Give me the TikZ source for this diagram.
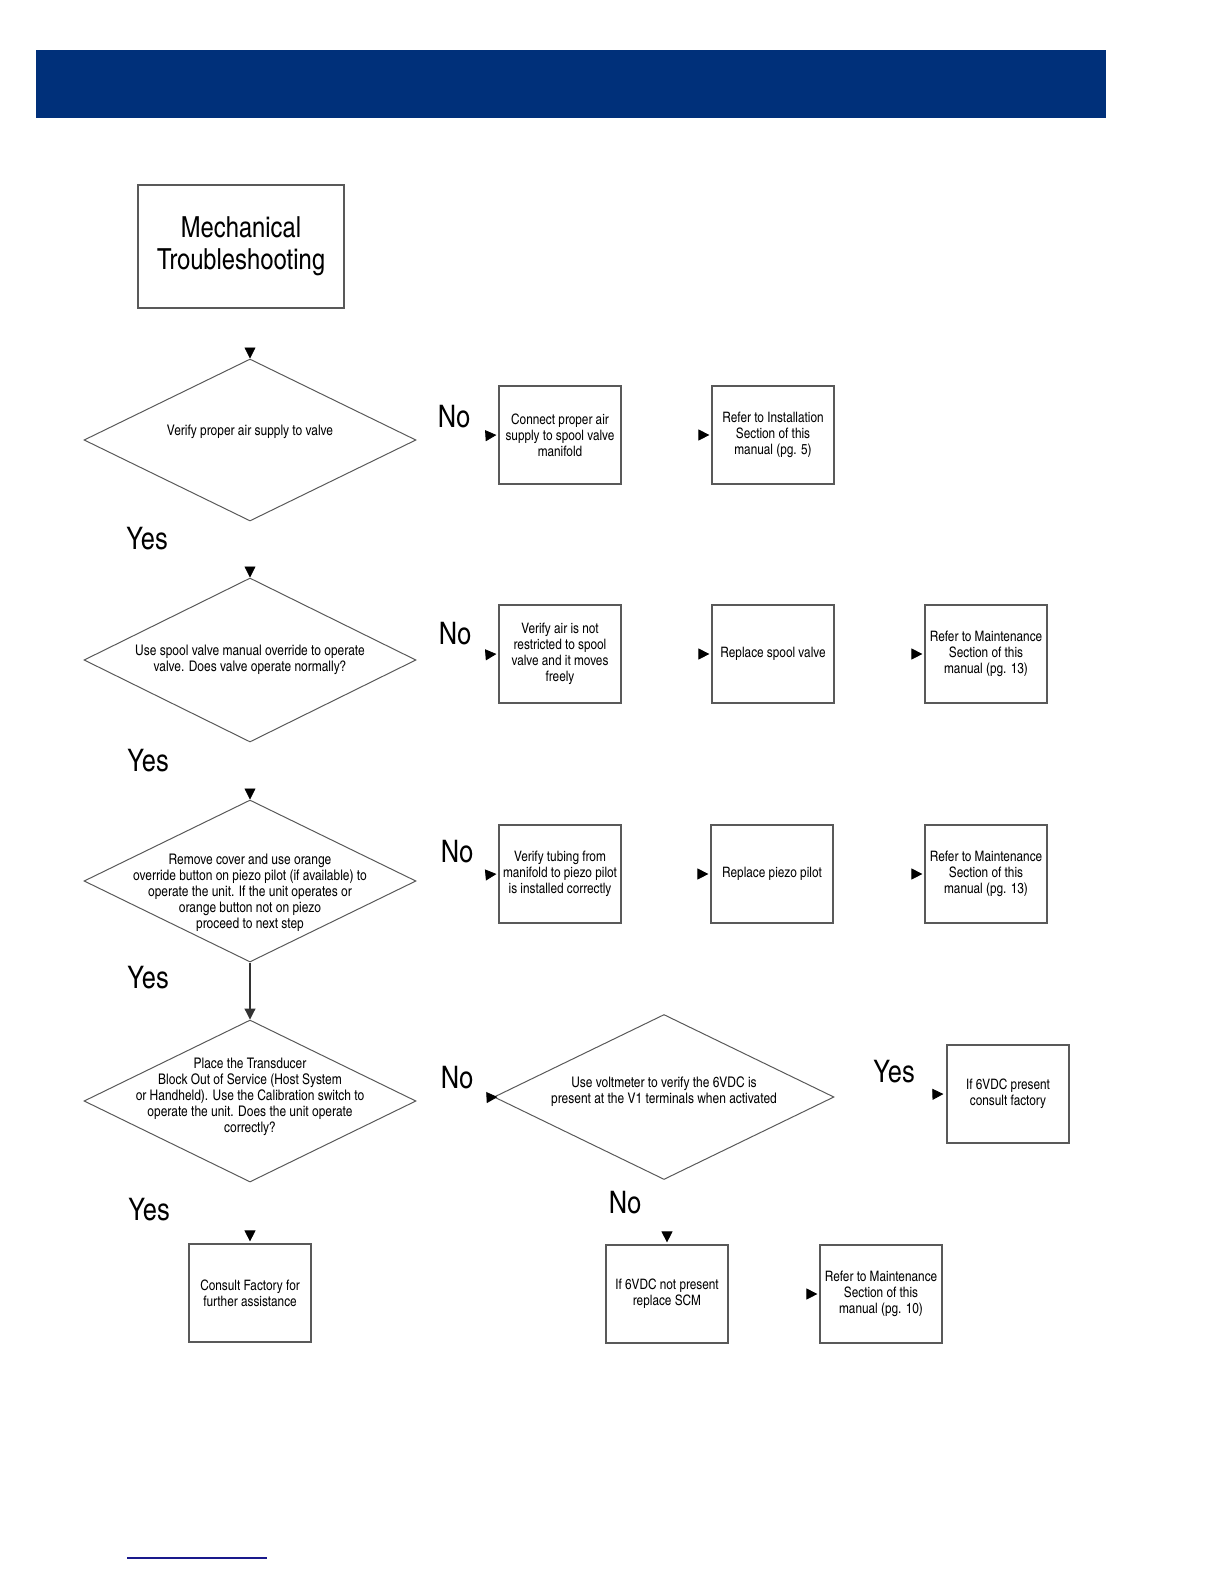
\documentclass[tikz,border=0pt]{standalone}
\usepackage{fontspec}
\setmainfont{TeX Gyre Heros Cn}
\usetikzlibrary{shapes.geometric, arrows.meta, decorations.markings}
\definecolor{headblue}{RGB}{0,48,122}
\definecolor{lineblue}{RGB}{25,25,140}
\tikzset{
  boxnode/.style={draw=black!65, line width=0.6pt, minimum width=61pt,
    minimum height=49pt, align=center, inner sep=1pt,
    font=\fontsize{7.2}{8}\selectfont},
  decision/.style={diamond, draw=black!65, line width=0.5pt,
    minimum width=166pt, minimum height=81pt, inner sep=0pt},
  dtext/.style={align=center, font=\fontsize{7.3}{8}\selectfont},
  answer/.style={font=\fontsize{15.5}{18}\selectfont},
  headonly/.style={postaction={decorate}, decoration={markings,
    mark=at position 1 with {\arrow{Triangle[length=5.5pt,width=5.5pt]}}}},
}
\begin{document}
\begin{tikzpicture}[x=0.5pt, y=-0.5pt]
\useasboundingbox (0,0) rectangle (1224,1584);
% header bar
\fill[headblue] (36,50) rectangle (1106,118);
% title box
\node[draw=black!65, line width=0.6pt, minimum width=103pt, minimum height=61.5pt,
  align=center, font=\fontsize{14.5}{16}\selectfont] (title) at (241,246.5)
  {Mechanical\\Troubleshooting};

% decisions
\node[decision, label={[dtext, yshift=4pt]center:{Verify proper air supply to valve}}] (d1) at (250,440) {};
\node[decision, minimum height=82pt, label={[dtext]center:{Use spool valve manual override to operate\\valve. Does valve operate normally?}}] (d2) at (250,660) {};
\node[decision, label={[dtext, yshift=-6pt]center:{Remove cover and use orange\\override button on piezo pilot (if available) to\\operate the unit. If the unit operates or\\orange button not on piezo\\proceed to next step}}] (d3) at (250,881) {};
\node[decision, label={[dtext, yshift=2pt]center:{Place the Transducer\\Block Out of Service (Host System\\or Handheld). Use the Calibration switch to\\operate the unit. Does the unit operate\\correctly?}}] (d4) at (250,1101) {};
\node[decision, minimum width=170pt, minimum height=82.5pt, label={[dtext, yshift=2.5pt]center:{Use voltmeter to verify the 6VDC is\\present at the V1 terminals when activated}}] (d5) at (664,1097) {};

% answers
\node[answer] (no1) at (454,417) {No};
\node[answer] (no2) at (455,634) {No};
\node[answer] (no3) at (457,852) {No};
\node[answer] (no4) at (457,1078) {No};
\node[answer] (no5) at (625,1203) {No};
\node[answer] (yes1) at (147,539) {Yes};
\node[answer] (yes2) at (148,761) {Yes};
\node[answer] (yes3) at (148,978) {Yes};
\node[answer] (yes4) at (149,1210) {Yes};
\node[answer] (yes5) at (894,1072) {Yes};

% action boxes
\node[boxnode] (c1) at (560,435) {Connect proper air\\supply to spool valve\\manifold};
\node[boxnode] (r1) at (773,435) {Refer to Installation\\Section of this\\manual (pg. 5)};
\node[boxnode] (v2) at (560,654) {Verify air is not\\restricted to spool\\valve and it moves\\freely};
\node[boxnode] (rs) at (773,654) {Replace spool valve};
\node[boxnode] (rm2) at (986,654) {Refer to Maintenance\\Section of this\\manual (pg. 13)};
\node[boxnode] (vt) at (560,874) {Verify tubing from\\manifold to piezo pilot\\is installed correctly};
\node[boxnode] (rp) at (772,874) {Replace piezo pilot};
\node[boxnode] (rm3) at (986,874) {Refer to Maintenance\\Section of this\\manual (pg. 13)};
\node[boxnode] (fac) at (1008,1094) {If 6VDC present\\consult factory};
\node[boxnode] (cf) at (250,1293) {Consult Factory for\\further assistance};
\node[boxnode] (scm) at (667,1294) {If 6VDC not present\\replace SCM};
\node[boxnode] (rm10) at (881,1294) {Refer to Maintenance\\Section of this\\manual (pg. 10)};

% connectors (heads only)
\path[headonly] (title.south -| d1.north) -- (d1.north);
\path[headonly] (d1.south) -- (d2.north);
\path[headonly] (d2.south) -- (d3.north);
\draw[-{Triangle[length=5.5pt,width=5.5pt]}, draw=black!80, line width=0.6pt] (d3.south) -- (d4.north);
\path[headonly] (d4.south) -- ([yshift=1pt]cf.north);
\path[headonly] (d1.east) -- ([xshift=-1pt]c1.west);
\path[headonly] (c1.east) -- ([xshift=-1pt]r1.west);
\path[headonly] (d2.east) -- ([xshift=-1pt]v2.west);
\path[headonly] (v2.east) -- ([xshift=-1pt]rs.west);
\path[headonly] (rs.east) -- ([xshift=-1pt]rm2.west);
\path[headonly] (d3.east) -- ([xshift=-1pt]vt.west);
\path[headonly] (vt.east) -- ([xshift=-1pt]rp.west);
\path[headonly] (rp.east) -- ([xshift=-1pt]rm3.west);
\path[headonly] (d4.east) -- ([xshift=2pt]d5.west);
\path[headonly] (d5.east) -- ([xshift=-1.5pt]fac.west);
\path[headonly] (scm.north |- d5.south) -- ([yshift=1pt]scm.north);
\path[headonly] (scm.east) -- ([xshift=-1pt]rm10.west);

% footer rule
\draw[lineblue, line width=0.8pt] (127,1558) -- (267,1558);
\end{tikzpicture}
\end{document}
